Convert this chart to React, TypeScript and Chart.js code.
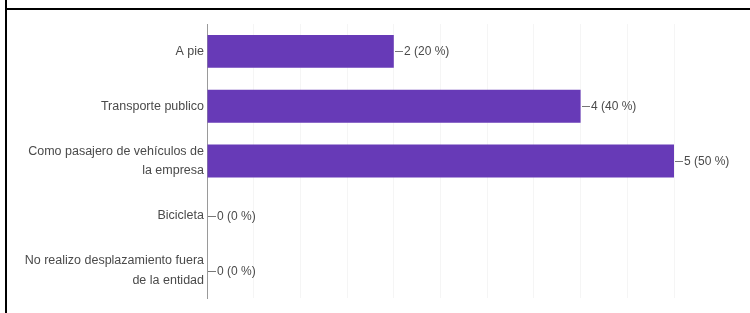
import React, { useEffect, useRef } from "react";
import { Chart, registerables } from "chart.js";

Chart.register(...registerables);

const categories: (string | string[])[] = [
  "A pie",
  "Transporte publico",
  ["Como pasajero de vehículos de", "la empresa"],
  "Bicicleta",
  ["No realizo desplazamiento fuera", "de la entidad"],
];
const counts = [2, 4, 5, 0, 0];
const percents = [20, 40, 50, 0, 0];

const BAR_COLOR = "#673ab7";
const TEXT_COLOR = "#4a4a4a";
const FONT_FAMILY = "'Liberation Sans', Arial, sans-serif";

const valueLabelPlugin = {
  id: "valueLabels",
  afterDatasetsDraw(chart: any) {
    const { ctx, scales } = chart;
    const xs = scales.x;
    const ys = scales.y;
    ctx.save();
    ctx.font = `12px ${FONT_FAMILY}`;
    ctx.fillStyle = TEXT_COLOR;
    ctx.textBaseline = "middle";
    ctx.textAlign = "left";
    counts.forEach((v, i) => {
      const x = Math.round(xs.getPixelForValue(v));
      const y = Math.round(ys.getPixelForValue(i));
      ctx.strokeStyle = "#777";
      ctx.lineWidth = 1;
      ctx.beginPath();
      ctx.moveTo(x + 1, y + 0.5);
      ctx.lineTo(x + 9, y + 0.5);
      ctx.stroke();
      ctx.fillText(`${v} (${percents[i]} %)`, x + 10, y + 1);
    });
    ctx.restore();
  },
};

export default function App() {
  const canvasRef = useRef<HTMLCanvasElement | null>(null);

  useEffect(() => {
    document.body.style.margin = "0";
    const canvas = canvasRef.current!;
    const chart = new Chart(canvas, {
      type: "bar",
      data: {
        labels: categories,
        datasets: [
          {
            data: counts,
            backgroundColor: BAR_COLOR,
            borderWidth: 0,
            categoryPercentage: 1,
            barPercentage: 0.6,
          },
        ],
      },
      options: {
        indexAxis: "y",
        animation: false,
        responsive: false,
        maintainAspectRatio: false,
        devicePixelRatio: 1,
        layout: { padding: { left: 0, top: 24, right: 76, bottom: 15 } },
        plugins: {
          legend: { display: false },
          tooltip: { enabled: false },
        },
        scales: {
          x: {
            min: 0,
            max: 5,
            ticks: { display: false, stepSize: 0.5 },
            grid: { color: "#f5f5f5", drawTicks: false },
            border: { display: false },
            afterFit(scale: any) {
              scale.height = 0;
            },
          },
          y: {
            ticks: {
              color: TEXT_COLOR,
              padding: 3,
              font: { family: FONT_FAMILY, size: 12.5, lineHeight: 1.55 },
            },
            grid: { display: false, drawTicks: false },
            border: { display: true, color: "#9a9a9a", width: 1 },
            afterFit(scale: any) {
              scale.width = 207;
            },
          },
        },
      },
      plugins: [valueLabelPlugin],
    });
    return () => chart.destroy();
  }, []);

  return (
    <div
      style={{
        position: "fixed",
        left: 0,
        top: 0,
        width: 750,
        height: 313,
        background: "#fff",
        overflow: "hidden",
      }}
    >
      <canvas
        ref={canvasRef}
        width={750}
        height={313}
        style={{ position: "absolute", left: 0, top: 0, width: 750, height: 313 }}
      />
      <div
        style={{
          position: "absolute",
          left: 5,
          top: 0,
          width: 2,
          height: 313,
          background: "#000",
        }}
      />
      <div
        style={{
          position: "absolute",
          left: 5,
          top: 8,
          width: 745,
          height: 2,
          background: "#000",
        }}
      />
    </div>
  );
}
